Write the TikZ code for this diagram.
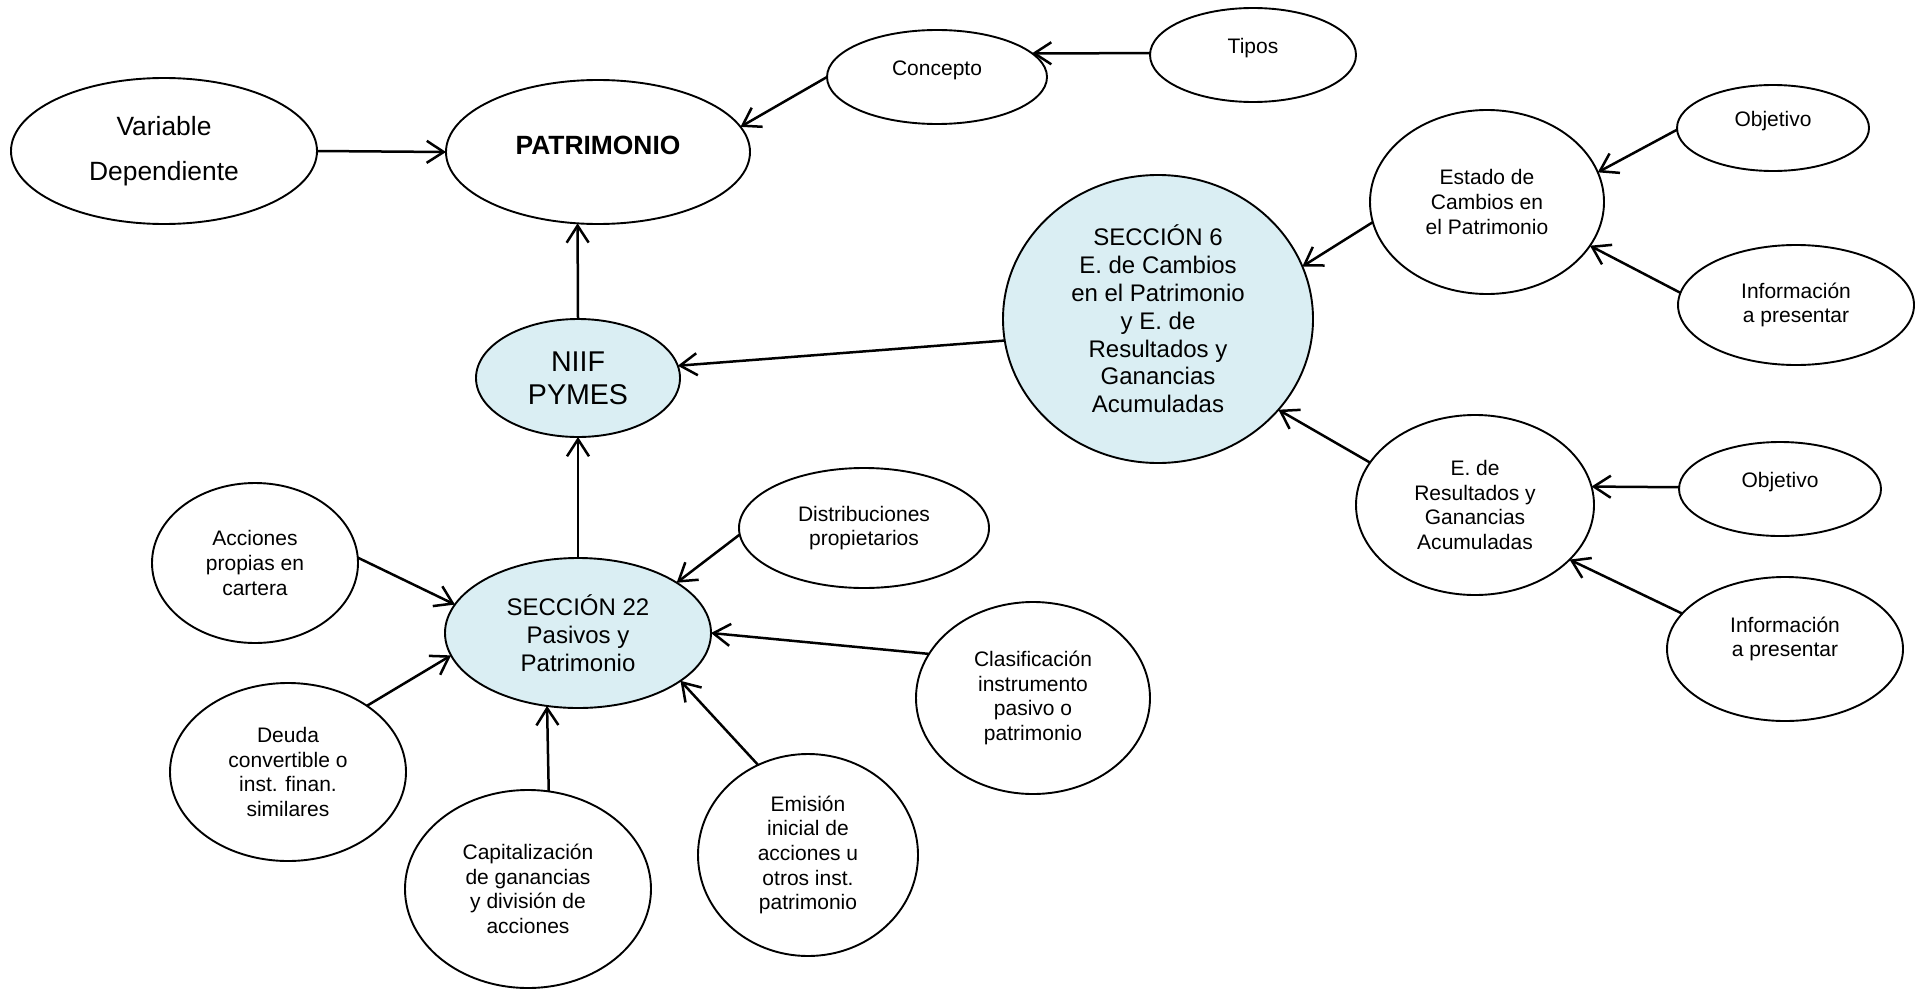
\documentclass[tikz,border=0pt]{standalone}
\usepackage{fontspec}
\setmainfont{Liberation Sans}
\usetikzlibrary{shapes.geometric,arrows.meta}
\definecolor{paleblue}{HTML}{DAEEF3}
\tikzset{
  % ellipse bubble: #1 = width, #2 = height (pt)
  bub/.style 2 args={ellipse, draw, line width=0.95pt, inner sep=0pt, outer sep=0pt,
    align=center, minimum width=#1pt, minimum height=#2pt},
  hub/.style={fill=paleblue},
  small/.style={font=\fontsize{10.5}{12.3}\selectfont},
  mid/.style={font=\fontsize{12}{13.9}\selectfont},
  arr/.style={-{Straight Barb[length=8.5pt,width=11pt]}, line width=1.25pt}
}
\begin{document}
\begin{tikzpicture}[x=0.5pt,y=-0.5pt]
\useasboundingbox (0,0) rectangle (1925,990);

% upper row
\node[bub={153}{73}, font=\fontsize{13.2}{22.5}\selectfont] (var) at (164,151) {Variable\\Dependiente};
\node[bub={152}{72}, font=\fontsize{13.2}{15}\selectfont\bfseries, text depth=7pt] (pat) at (598,152) {PATRIMONIO};
\node[bub={110}{47}, small, text depth=9pt] (conc) at (937,77) {Concepto};
\node[bub={103}{47}, small, text depth=9pt] (tipos) at (1253,55) {Tipos};

% central hubs
\node[bub={102}{59}, hub, font=\fontsize{14.3}{16.5}\selectfont] (niif) at (578,378) {NIIF\\PYMES};
\node[bub={155}{144}, hub, mid] (s6) at (1158,319) {SECCIÓN 6\\E. de Cambios\\en el Patrimonio\\y E. de\\Resultados y\\Ganancias\\Acumuladas};
\node[bub={133}{75}, hub, font=\fontsize{12}{14}\selectfont] (s22) at (578,633) {SECCIÓN 22\\Pasivos y\\Patrimonio};

% section 6 branch
\node[bub={117}{92}, small] (estado) at (1487,202) {Estado de\\Cambios en\\el Patrimonio};
\node[bub={96}{43}, small, text depth=9pt] (obj1) at (1773,128) {Objetivo};
\node[bub={118}{60}, small] (info1) at (1796,305) {Información\\a presentar};
\node[bub={119}{90}, small] (eres) at (1475,505) {E. de\\Resultados y\\Ganancias\\Acumuladas};
\node[bub={101}{47}, small, text depth=9pt] (obj2) at (1780,489) {Objetivo};
\node[bub={118}{72}, small] (info2) at (1785,649) {Información\\a presentar\\};

% section 22 branch
\node[bub={103}{80}, small] (acc) at (255,563) {Acciones\\propias en\\cartera};
\node[bub={125}{60}, small] (dist) at (864,528) {Distribuciones\\propietarios};
\node[bub={117}{96}, small] (clas) at (1033,698) {Clasificación\\instrumento\\pasivo o\\patrimonio};
\node[bub={118}{89}, small] (deuda) at (288,772) {Deuda\\convertible o\\inst. finan.\\similares};
\node[bub={123}{99}, small] (cap) at (528,889) {Capitalización\\de ganancias\\y división de\\acciones};
\node[bub={110}{101}, small] (emis) at (808,855) {Emisión\\inicial de\\acciones u\\otros inst.\\patrimonio};

% connectors
\draw[arr] (var.east) -- (pat.west);
\draw[arr] (conc.west) -- (pat.10.5);
\draw[arr] (tipos.179) -- (conc.14);
\draw[arr] (niif.north) -- (pat.254);
\draw[arr] (s6.188) -- (niif.7);
\draw[arr] (estado.190) -- (s6.20);
\draw[arr] (obj1.181) -- (estado.15);
\draw[arr] (info1.174) -- (estado.337);
\draw[arr] (eres.158) -- (s6.323);
\draw[arr] (obj2.179) -- (eres.9);
\draw[arr] (info2.161) -- (eres.330);
\draw[arr] (s22.north) -- (niif.south);
\draw[arr] (acc.3) -- (s22.167);
\draw[arr] (deuda.40) -- (s22.190);
\draw[arr] (cap.78) -- (s22.247);
\draw[arr] (emis.119) -- (s22.335);
\draw[arr] (clas.157) -- (s22.0);
\draw[arr] (dist.183) -- (s22.27);
\end{tikzpicture}
\end{document}
